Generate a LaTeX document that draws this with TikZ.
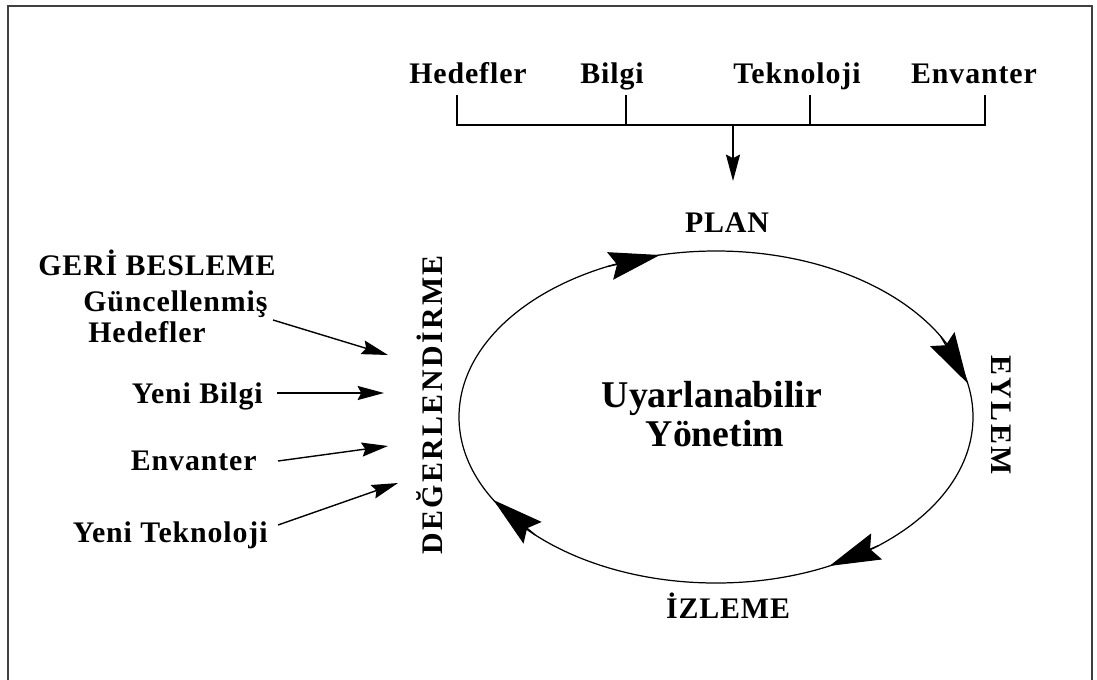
\documentclass[tikz,border=0pt]{standalone}
\usepackage{fontspec}
\setmainfont{Liberation Serif}
\newfontfamily\lsfont[LetterSpace=3]{Liberation Serif}
\newfontfamily\lsbfont[LetterSpace=8]{Liberation Serif}
\usetikzlibrary{arrows.meta}
\begin{document}
\begin{tikzpicture}[x=0.02cm,y=-0.02cm,
  lbl/.style={font=\lsfont\bfseries\fontsize{17}{20}\selectfont, inner sep=0pt},
  wide/.style={font=\lsbfont\bfseries\fontsize{17}{20}\selectfont, inner sep=0pt},
  big/.style={font=\bfseries\fontsize{21.5}{24}\selectfont, inner sep=0pt},
  thinline/.style={line width=0.7pt},
  inarr/.style={line width=0.8pt, -{Stealth[length=15pt,width=8pt,inset=2pt]}},
  cyc/.style={line width=0.7pt, -{Stealth[length=29pt,width=16pt,inset=4pt]}},
]
\useasboundingbox (0,0) rectangle (1097,679);
% frame
\draw[line width=1.3pt, black!75] (8,700) -- (8,6) -- (1092,6) -- (1092,700);

% top inputs
\node[lbl, anchor=base] (hed) at (468,84) {Hedefler};
\node[lbl, anchor=base] (bil) at (612,84) {Bilgi};
\node[lbl, anchor=base] (tek) at (797,84) {Teknoloji};
\node[lbl, anchor=base] (env) at (974,84) {Envanter};
\coordinate (ht) at (457,95);  \coordinate (hj) at (457,125);
\coordinate (bt) at (626,95);  \coordinate (bj) at (626,125);
\coordinate (tt) at (810,95);  \coordinate (tj) at (810,125);
\coordinate (et) at (985,95);  \coordinate (ej) at (985,125);
\coordinate (mj) at (733,125); \coordinate (mt) at (733,181);
\draw[thinline] (ht) -- (hj) -- (ej) -- (et);
\draw[thinline] (bt) -- (bj);
\draw[thinline] (tt) -- (tj);
\draw[inarr] (mj) -- (mt);

% cycle labels
\node[lbl, anchor=base] (plan) at (727,232) {PLAN};
\node[wide, rotate=-90] (eylem) at (1001,415) {EYLEM};
\node[lbl, anchor=base] (izleme) at (728,618) {İZLEME};
\node[wide, rotate=90] (deg) at (430,405) {DEĞERLENDİRME};

% centre
\node[big, anchor=base] (uy1) at (712,407) {Uyarlanabilir};
\node[big, anchor=base] (uy2) at (715,446) {Yönetim};

% ellipse cycle
\draw[thinline] (716,417) ellipse [x radius=257, y radius=166];
\coordinate (c1b) at ({716+257*cos(-115)},{417+166*sin(-115)});
\coordinate (c1t) at ({716+257*cos(-102.6)},{417+166*sin(-102.6)});
\coordinate (c2b) at ({716+257*cos(-29)},{417+166*sin(-29)});
\coordinate (c2t) at ({716+257*cos(-11.7)},{417+166*sin(-11.7)});
\coordinate (c3b) at ({716+257*cos(50.8)},{417+166*sin(50.8)});
\coordinate (c3t) at ({716+257*cos(63.8)},{417+166*sin(63.8)});
\coordinate (c4b) at ({716+257*cos(134.7)},{417+166*sin(134.7)});
\coordinate (c4t) at ({716+257*cos(150)},{417+166*sin(150)});
\draw[cyc] (c1b) -- (c1t);
\draw[cyc] (c2b) -- (c2t);
\draw[cyc] (c3b) -- (c3t);
\draw[cyc] (c4b) -- (c4t);

% feedback
\node[lbl, anchor=base west] (geri) at (38,275) {GERİ BESLEME};
\node[lbl, anchor=base west] (gun) at (83,311) {Güncellenmiş};
\node[lbl, anchor=base west] (ghed) at (88,342) {Hedefler};
\node[lbl, anchor=base east] (yb) at (263,403) {Yeni Bilgi};
\node[lbl, anchor=base east] (fenv) at (257,470) {Envanter};
\node[lbl, anchor=base east] (yt) at (268,542) {Yeni Teknoloji};

\coordinate (s1) at (273,320); \coordinate (e1) at (388,355);
\coordinate (s2) at (277,393); \coordinate (e2) at (384,393);
\coordinate (s3) at (278,461); \coordinate (e3) at (388,446);
\coordinate (s4) at (278,525); \coordinate (e4) at (398,483);
\draw[inarr] (s1) -- (e1);
\draw[inarr] (s2) -- (e2);
\draw[inarr] (s3) -- (e3);
\draw[inarr] (s4) -- (e4);
\end{tikzpicture}
\end{document}
